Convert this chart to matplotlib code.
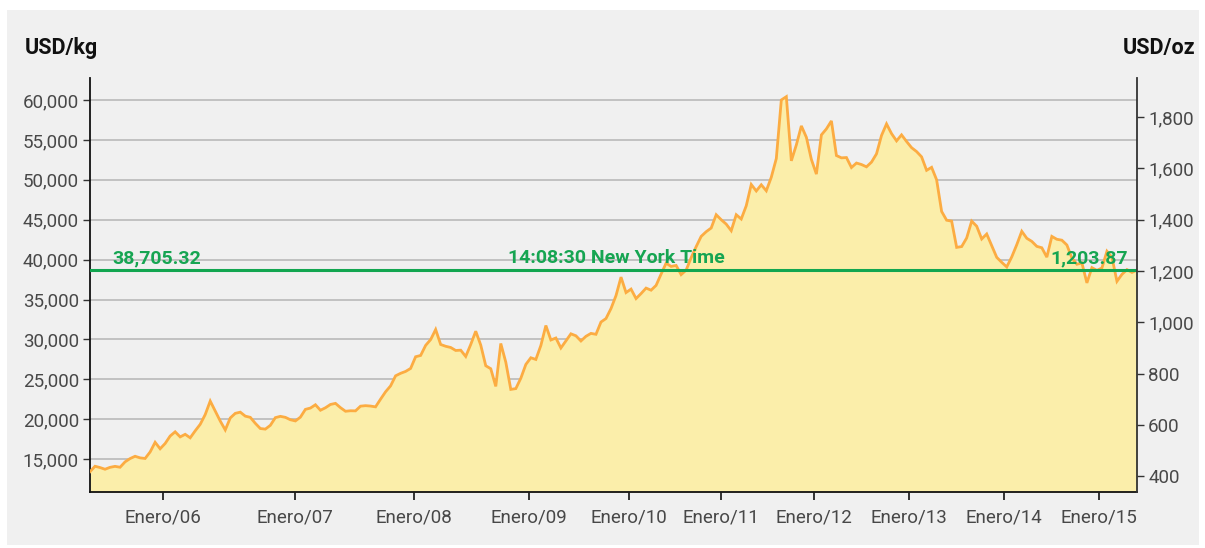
import matplotlib
matplotlib.use("Agg")
import matplotlib.pyplot as plt
from matplotlib.patches import Rectangle
from matplotlib.ticker import FuncFormatter, FixedLocator
import numpy as np

plt.rcParams['font.family'] = ['Roboto', 'DejaVu Sans']

# Gold price, USD per kg (evenly spaced observations)
price_usd_kg = [
    13440, 14125, 13962, 13750, 13988, 14112, 14000, 14675, 15088, 15375,
    15175, 15100, 15912, 17125, 16313, 16975, 17912, 18438, 17800, 18125,
    17688, 18563, 19375, 20600, 22288, 21038, 19788, 18675, 20175, 20750,
    20900, 20400, 20250, 19500, 18850, 18775, 19250, 20213, 20375, 20250,
    19950, 19800, 20275, 21250, 21413, 21825, 21138, 21450, 21863, 22000,
    21463, 21013, 21075, 21063, 21650, 21713, 21663, 21563, 22525, 23450,
    24188, 25450, 25763, 26000, 26375, 27838, 28000, 29263, 29988, 31250,
    29375, 29150, 29000, 28625, 28663, 27875, 29375, 31038, 29300, 26713,
    26338, 24125, 29500, 27163, 23750, 23850, 25150, 26875, 27713, 27500,
    29250, 31750, 29938, 30188, 28938, 29825, 30713, 30463, 29813, 30400,
    30763, 30650, 32188, 32625, 33875, 35500, 37813, 35875, 36313, 35125,
    35750, 36438, 36175, 36775, 38188, 39563, 39150, 39275, 38125, 38688,
    40250, 41625, 42913, 43500, 43963, 45625, 45000, 44450, 43625, 45625,
    45088, 46750, 49413, 48600, 49375, 48625, 50325, 52663, 60000, 60412,
    52375, 54375, 56750, 55325, 52550, 50713, 55625, 56375, 57375, 53038,
    52750, 52788, 51538, 52100, 51913, 51625, 52213, 53250, 55550, 57000,
    55788, 54875, 55625, 54800, 54025, 53538, 52875, 51188, 51563, 50000,
    46038, 44938, 44825, 41538, 41638, 42713, 44825, 44188, 42588, 43213,
    41750, 40288, 39663, 39088, 40350, 41875, 43550, 42675, 42288, 41663,
    41488, 40313, 42913, 42550, 42438, 41838, 40213, 39425, 39588, 37088,
    39000, 38650, 38963, 41050, 40288, 37288, 38163, 38750, 38400, 38705,
]

tick_labels = ["Enero/06", "Enero/07", "Enero/08", "Enero/09", "Enero/10",
               "Enero/11", "Enero/12", "Enero/13", "Enero/14", "Enero/15"]
tick_positions = [14.6, 40.9, 64.7, 87.6, 107.6, 126.0, 144.5, 163.5, 182.4, 201.4]

current_kg = 38705.32
current_oz = 1203.87
time_label = "14:08:30 New York Time"
KG_PER_OZ = 32.1507466

W, H = 1205, 548
fig = plt.figure(figsize=(W / 100, H / 100), dpi=100, facecolor="white")
bg = Rectangle((7 / W, 3 / H), (1199 - 7) / W, (538 - 3) / H,
               transform=fig.transFigure, facecolor="#f0f0f0",
               edgecolor="none", zorder=-10)
fig.patches.append(bg)

ax = fig.add_axes([90 / W, 1 - 492 / H, (1137 - 90) / W, (492 - 78) / H])
ax.patch.set_visible(False)

x = np.arange(len(price_usd_kg))
ylo, yhi = 10900, 62750
ax.set_xlim(0, len(price_usd_kg) - 1)
ax.set_ylim(ylo, yhi)

ax.set_yticks(range(15000, 60001, 5000))
ax.yaxis.set_major_formatter(FuncFormatter(lambda v, p: f"{int(v):,}"))
ax.grid(axis="y", color="#b4b4b4", linewidth=1.1, zorder=0)
ax.set_axisbelow(True)

ax.fill_between(x, price_usd_kg, ylo, color="#fbeeaa", zorder=2, linewidth=0)
ax.plot(x, price_usd_kg, color="#fcac42", linewidth=2.0, zorder=3,
        solid_joinstyle="miter")

ax.axhline(current_kg, color="#12a650", linewidth=2.2, zorder=4)
green = "#16a552"
fs_green = 14
ax.text(4.5, current_kg + 350, f"{current_kg:,.2f}", color=green,
        fontsize=fs_green, fontweight="bold", ha="left", va="bottom", zorder=5)
ax.text(105.0, current_kg + 350, time_label, color=green,
        fontsize=fs_green, fontweight="bold", ha="center", va="bottom", zorder=5)
ax.text(207.2, current_kg + 350, f"{current_oz:,.2f}", color=green,
        fontsize=fs_green, fontweight="bold", ha="right", va="bottom", zorder=5)

ax.xaxis.set_major_locator(FixedLocator(tick_positions))
ax.set_xticklabels(tick_labels)

for s in ["top", "right"]:
    ax.spines[s].set_visible(False)
ax.spines["left"].set_color("#111111")
ax.spines["bottom"].set_color("#111111")
ax.spines["left"].set_linewidth(1.3)
ax.spines["bottom"].set_linewidth(1.3)
ax.tick_params(axis="y", length=5, width=1, color="#333333",
               labelsize=13.5, labelcolor="#484848", pad=3)
ax.tick_params(axis="x", length=6, width=1.3, color="#222222",
               labelsize=13.5, labelcolor="#484848", pad=6)

ax2 = ax.twinx()
ax2.patch.set_visible(False)
ax2.set_ylim(ylo / KG_PER_OZ, yhi / KG_PER_OZ)
ax2.set_yticks(range(400, 1801, 200))
ax2.yaxis.set_major_formatter(FuncFormatter(lambda v, p: f"{int(v):,}"))
for s in ["top", "left", "bottom"]:
    ax2.spines[s].set_visible(False)
ax2.spines["right"].set_color("#333333")
ax2.spines["right"].set_linewidth(1.3)
ax2.tick_params(axis="y", length=5, width=1, color="#333333",
                labelsize=13.5, labelcolor="#484848", pad=3)

fig.text(25 / W, 1 - 48 / H, "USD/kg", fontsize=15.5, fontweight="bold",
         color="#111111", ha="left", va="center")
fig.text(1195 / W, 1 - 48 / H, "USD/oz", fontsize=15.5, fontweight="bold",
         color="#111111", ha="right", va="center")

fig.savefig("out.png", dpi=100, facecolor=fig.get_facecolor())
